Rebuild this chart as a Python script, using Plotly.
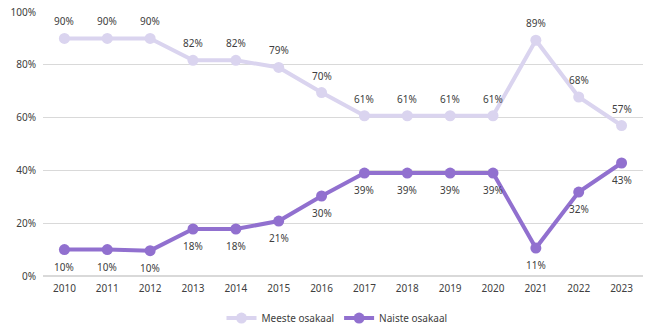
import plotly.graph_objects as go

years = [str(y) for y in range(2010, 2024)]
meeste = [0.90, 0.90, 0.90, 0.817, 0.817, 0.79, 0.695, 0.607, 0.607, 0.607, 0.607, 0.893, 0.678, 0.57]
naiste = [0.10, 0.10, 0.096, 0.178, 0.178, 0.208, 0.303, 0.39, 0.39, 0.39, 0.39, 0.106, 0.318, 0.428]

light = "#DAD4EF"
dark = "#9170CF"
font = dict(family="Noto Sans, Open Sans, sans-serif", size=10, color="#404040")

fig = go.Figure()
fig.add_trace(go.Scatter(
    x=years, y=meeste, name="Meeste osakaal", mode="lines+markers",
    line=dict(color=light, width=4), marker=dict(color=light, size=11),
    cliponaxis=False))
fig.add_trace(go.Scatter(
    x=years, y=naiste, name="Naiste osakaal", mode="lines+markers",
    line=dict(color=dark, width=4), marker=dict(color=dark, size=11),
    cliponaxis=False))

annotations = []
for i, v in enumerate(meeste):
    annotations.append(dict(x=i, y=v, text=f"{round(v*100)}%", showarrow=False,
                            yshift=17, font=font))
for i, v in enumerate(naiste):
    annotations.append(dict(x=i, y=v, text=f"{round(v*100)}%", showarrow=False,
                            yshift=-17, font=font))

fig.update_layout(
    width=653, height=330,
    margin=dict(l=43, r=10, t=12, b=54),
    paper_bgcolor="white", plot_bgcolor="white",
    font=font,
    showlegend=True,
    annotations=annotations,
    legend=dict(orientation="h", x=0.49, xanchor="center", yref="container",
                y=0.036, yanchor="middle", font=font, itemwidth=30),
)
fig.update_xaxes(type="category", categoryarray=years, range=[-0.5, len(years) - 0.5],
                 showgrid=False, showline=False, ticks="",
                 tickfont=font, automargin=False, ticklabelstandoff=5)
fig.update_yaxes(range=[0, 1], dtick=0.2, tickformat=".0%", showgrid=True,
                 gridcolor="#D9D9D9", gridwidth=1, zeroline=True, zerolinecolor="#D9D9D9",
                 showline=False, ticks="", tickfont=font, automargin=False,
                 ticklabelstandoff=6)

fig.write_html("out.html")
